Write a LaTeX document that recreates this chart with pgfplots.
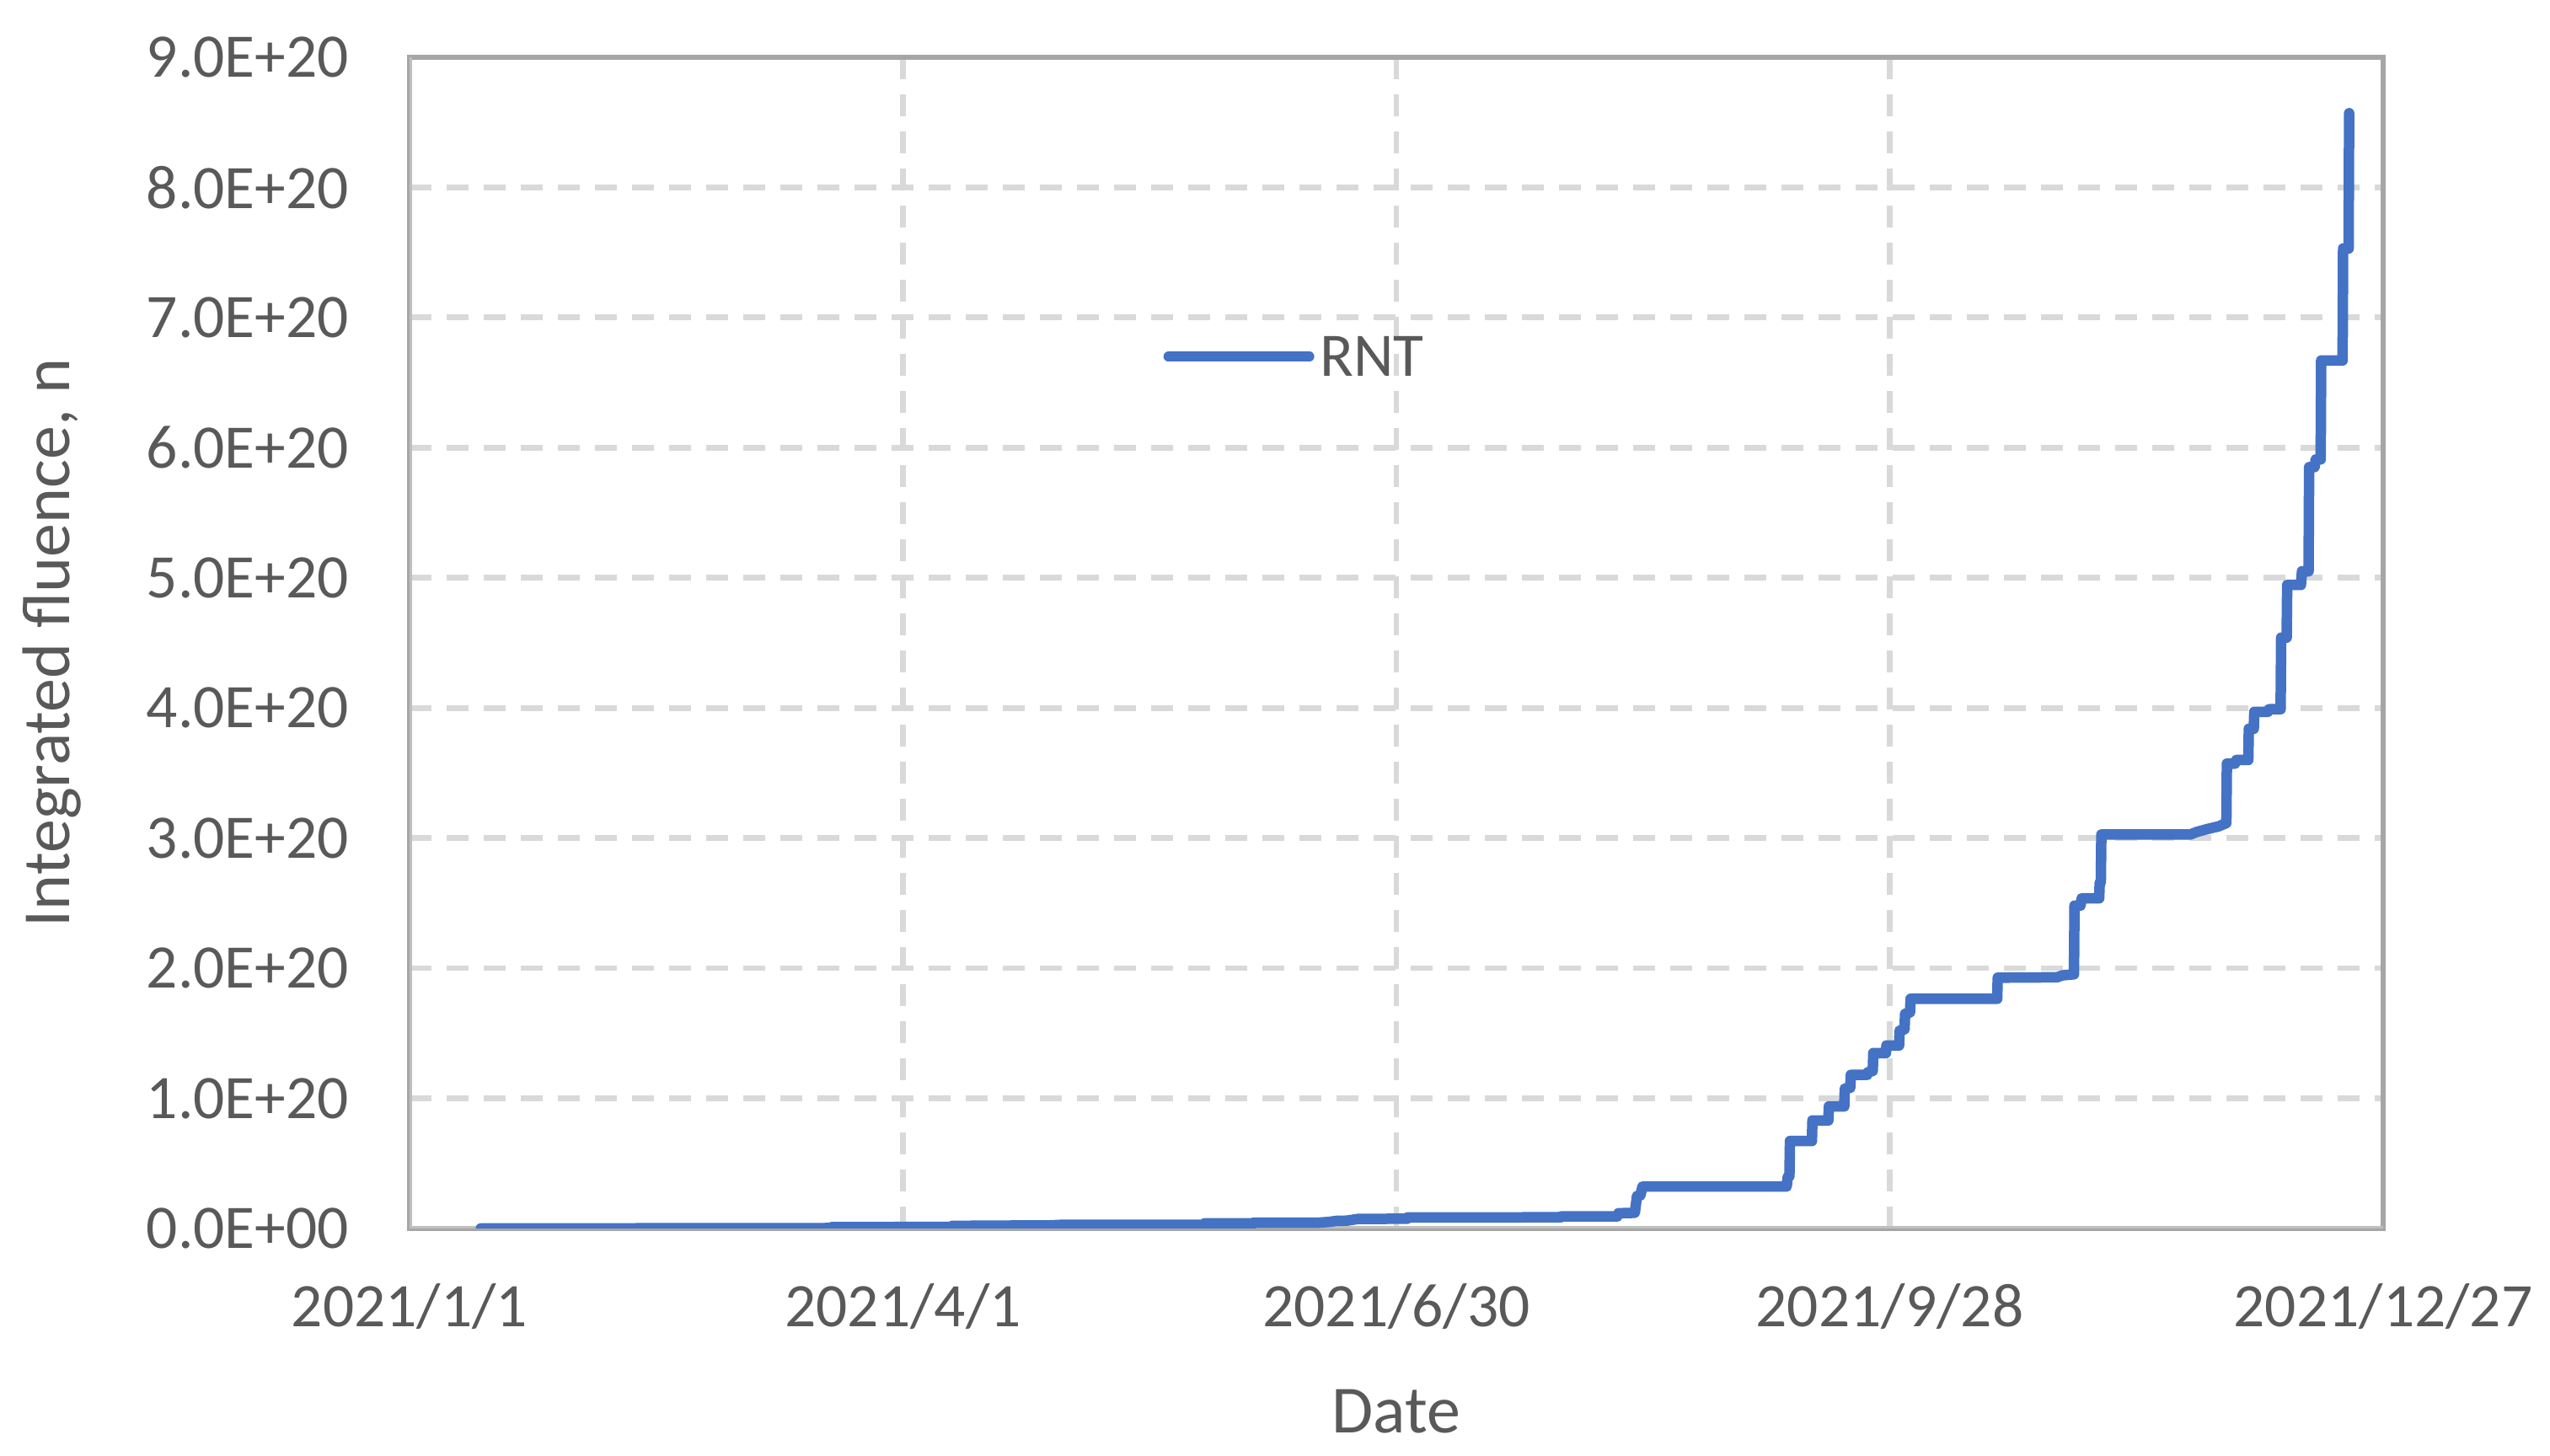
\documentclass[border=0pt]{standalone}
\usepackage{pgfplots}
\pgfplotsset{compat=1.18}
\usepackage{fontspec}
\setmainfont{Carlito}
\definecolor{txt}{HTML}{595959}
\definecolor{axgray}{HTML}{BFBFBF}
\definecolor{boxgray}{HTML}{A6A6A6}
\definecolor{gridgray}{HTML}{D9D9D9}
\definecolor{rnt}{HTML}{4472C4}
\begin{document}
\begin{tikzpicture}
\begin{axis}[
  scale only axis, width=468.4pt, height=278pt,
  xmin=0, xmax=360, ymin=0, ymax=9e20,
  xtick={0,90,180,270,360},
  xticklabels={2021/1/1,2021/4/1,2021/6/30,2021/9/28,2021/12/27},
  ytick={0,1e20,2e20,3e20,4e20,5e20,6e20,7e20,8e20,9e20},
  yticklabels={0.0E+00,1.0E+20,2.0E+20,3.0E+20,4.0E+20,5.0E+20,6.0E+20,7.0E+20,8.0E+20,9.0E+20},
  scaled y ticks=false, scaled x ticks=false,
  major tick length=0pt,
  grid=major,
  major grid style={gridgray, line width=1.35pt, dash pattern=on 5.2pt off 3.6pt},
  axis line style={boxgray, line width=1.35pt},
  ticklabel style={font=\fontsize{14.7}{17}\selectfont, text=txt},
  yticklabel style={inner sep=0pt, xshift=-14.2pt},
  xticklabel style={inner sep=0pt, yshift=-13pt},
  xlabel={Date},
  ylabel={Integrated fluence, n},
  every axis x label/.style={at={(axis description cs:0.5,-0.1746)}, anchor=base, font=\fontsize{16}{19}\selectfont, text=txt},
  every axis y label/.style={at={(axis description cs:-0.1721,0.5)}, rotate=90, anchor=base, font=\fontsize{16}{19}\selectfont, text=txt},
  legend image code/.code={\path[draw=none] (0pt,0.75pt) -- (36pt,0.75pt); \draw[#1, line width=2.3pt, line cap=round] (0pt,0.75pt) -- (33.5pt,0.75pt);},
  legend style={draw=none, fill=none, at={(axis description cs:0.382,0.7417)}, anchor=west,
    inner sep=0pt, outer sep=0pt, font=\fontsize{14.7}{17}\selectfont, text=txt,
    nodes={inner sep=0pt}},
]
\draw[axgray, line width=1.35pt] (rel axis cs:0,1) -- (rel axis cs:0,0) -- (rel axis cs:1,0);
\addplot[rnt, line width=2.5pt, line join=round, line cap=round] coordinates {
(13,0) (77,0.003e20) (77,0.010e20) (99,0.012e20) (99,0.020e20) (117,0.024e20)
(119,0.028e20) (145,0.028e20) (145,0.039e20) (154,0.039e20) (154,0.045e20)
(166,0.045e20) (167.7,0.05e20) (169,0.058e20) (171,0.060e20) (173,0.073e20)
(182,0.075e20) (182,0.084e20) (210,0.086e20) (210,0.092e20) (220.3,0.092e20)
(220.5,0.117e20) (223.5,0.12e20) (223.9,0.25e20) (224.5,0.253e20) (224.9,0.322e20)
(251.2,0.322e20) (251.4,0.397e20) (251.7,0.40e20) (251.8,0.672e20) (255.8,0.672e20)
(255.9,0.83e20) (258.8,0.83e20) (258.9,0.938e20) (261.7,0.938e20) (261.8,1.075e20)
(262.8,1.08e20) (262.9,1.18e20) (265.9,1.18e20) (266.0,1.20e20) (266.9,1.21e20)
(267.0,1.348e20) (269.3,1.348e20) (269.4,1.406e20) (271.7,1.406e20) (271.8,1.52e20)
(272.7,1.53e20) (272.8,1.65e20) (273.7,1.66e20) (273.8,1.765e20) (289.6,1.765e20)
(289.7,1.927e20) (300.5,1.93e20) (301.5,1.945e20) (303.6,1.953e20) (303.7,2.48e20)
(304.8,2.48e20) (305.0,2.537e20) (308.2,2.537e20) (308.3,2.657e20) (308.5,2.66e20)
(308.6,3.027e20) (324.8,3.027e20) (326,3.047e20) (328,3.07e20) (330,3.09e20)
(331.4,3.115e20) (331.5,3.572e20) (333,3.572e20) (333.2,3.6e20) (335.4,3.6e20)
(335.5,3.84e20) (336.4,3.84e20) (336.5,3.97e20) (339,3.97e20) (339.2,3.99e20)
(341.3,3.99e20) (341.4,4.54e20) (342.4,4.54e20) (342.5,4.945e20) (345,4.945e20)
(345.2,5.05e20) (346.4,5.05e20) (346.5,5.85e20) (347.5,5.85e20) (347.7,5.91e20)
(348.6,5.91e20) (348.7,6.67e20) (352.6,6.67e20) (352.7,7.53e20) (353.7,7.53e20)
(353.8,8.57e20)
};
\addlegendentry{RNT}
\end{axis}
\pgfresetboundingbox
\path ([shift={(-97.2pt,-54pt)}]current axis.south west) rectangle ([shift={(39.6pt,13.6pt)}]current axis.north east);
\end{tikzpicture}
\end{document}
